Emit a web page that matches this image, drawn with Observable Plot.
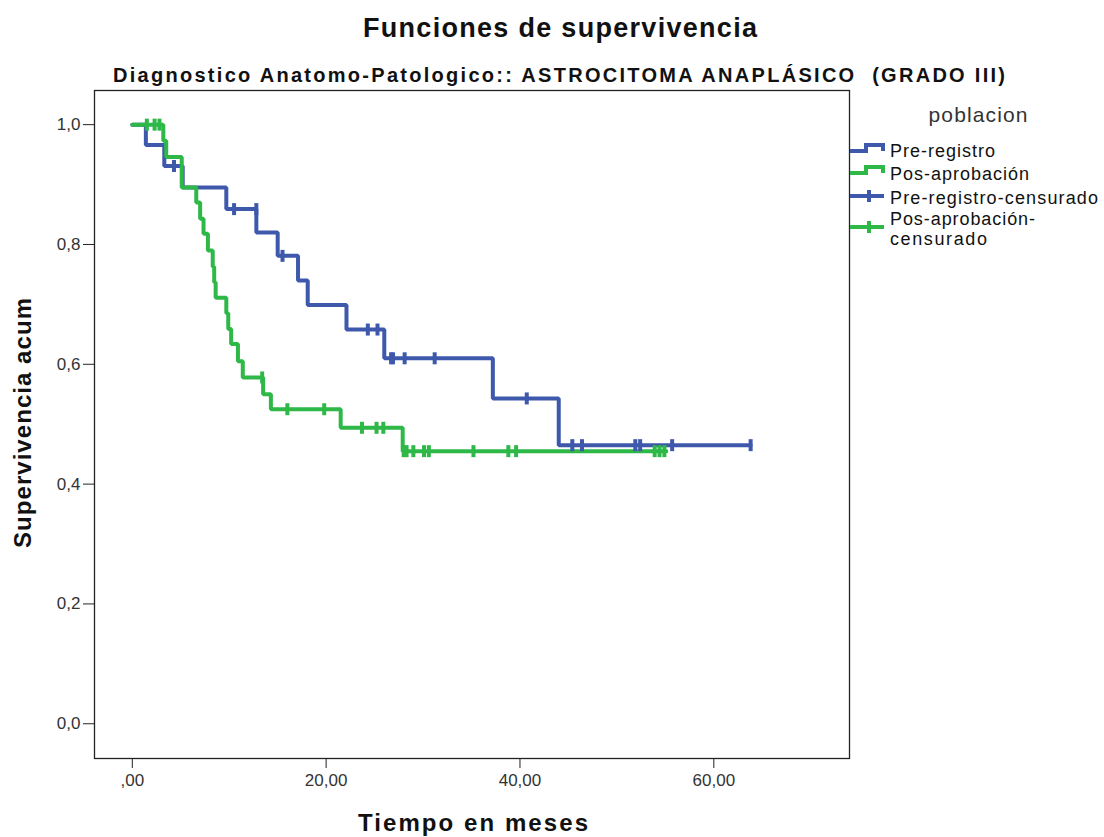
<!DOCTYPE html>
<html><head><meta charset="utf-8">
<script src="https://cdn.jsdelivr.net/npm/d3@7"></script>
<script src="https://cdn.jsdelivr.net/npm/@observablehq/plot@0.6"></script>
<style>
body{margin:0;background:#fff;}
#chart svg{display:block;font-family:"Liberation Sans",Arial,sans-serif;}
</style></head><body><div id="chart"></div>
<script>
// ---- data ----
const groups = ["Pre-registro", "Pos-aprobación"];
const colors = ["#3E58AC", "#2EB848"];

const preTimes = [0, 1.4, 3.3, 5.2, 9.7, 12.8, 15.0, 17.1, 18.1, 22.1, 26.0, 37.2, 44.0, 63.8];
const preSurv  = [1.0, 0.966, 0.931, 0.895, 0.859, 0.820, 0.781, 0.740, 0.699, 0.658, 0.610, 0.543, 0.465, 0.465];
const preCensored = [4.3, 10.5, 12.8, 15.5, 24.3, 25.3, 26.7, 26.9, 28.1, 31.2, 40.7, 45.4, 46.4, 51.9, 52.4, 55.7, 63.8];

const posTimes = [0, 3.2, 3.5, 5.1, 6.6, 7.0, 7.35, 7.8, 8.3, 8.45, 8.6, 9.7, 9.9, 10.2, 10.9, 11.4, 13.5, 14.3, 21.5, 27.9, 55.1];
const posSurv  = [1.0, 0.973, 0.946, 0.895, 0.870, 0.843, 0.818, 0.790, 0.763, 0.737, 0.711, 0.685, 0.659, 0.634, 0.605, 0.578, 0.550, 0.525, 0.494, 0.455, 0.455];
const posCensored = [1.5, 2.3, 2.8, 13.4, 16.0, 19.8, 23.7, 25.2, 25.9, 28.0, 28.3, 29.0, 30.1, 30.6, 35.2, 38.8, 39.6, 53.9, 54.4, 54.9];

const xTicks = [0, 20, 40, 60];
const yTicks = [0, 0.2, 0.4, 0.6, 0.8, 1.0];
const legendLabels = ["Pre-registro", "Pos-aprobación", "Pre-registro-censurado", ["Pos-aprobación-", "censurado"]];

const titleText = "Funciones de supervivencia";
const subtitleText = "Diagnostico Anatomo-Patologico:: ASTROCITOMA ANAPLÁSICO  (GRADO III)";
const xLabel = "Tiempo en meses";
const yLabel = "Supervivencia acum";
const legendTitle = "poblacion";

// ---- build tables ----
function levelAt(times, surv, t) {
  let v = surv[0];
  for (let i = 0; i < times.length; i++) if (times[i] < t) v = surv[i];
  return v;
}
const steps = [
  ...preTimes.map((t, i) => ({time: t, surv: preSurv[i], group: groups[0]})),
  ...posTimes.map((t, i) => ({time: t, surv: posSurv[i], group: groups[1]}))
];
const censors = [
  ...preCensored.map(t => ({time: t, surv: levelAt(preTimes, preSurv, t), group: groups[0]})),
  ...posCensored.map(t => ({time: t, surv: levelAt(posTimes, posSurv, t), group: groups[1]}))
];

const vtick = {draw(ctx, size) { const h = Math.sqrt(size / Math.PI); ctx.moveTo(0, -h); ctx.lineTo(0, h); }};
const fmtX = d => d === 0 ? ",00" : d.toFixed(2).replace(".", ",");
const fmtY = d => d.toFixed(1).replace(".", ",");

const chart = Plot.plot({
  width: 1104, height: 837,
  marginTop: 90, marginRight: 255, marginBottom: 79, marginLeft: 94,
  style: {fontFamily: '"Liberation Sans", Arial, sans-serif', background: "#fff", color: "#222"},
  x: {domain: [-3.9, 74]},
  y: {domain: [-0.058, 1.057]},
  color: {domain: groups, range: colors},
  marks: [
    Plot.axisX(xTicks, {tickSize: 10, tickPadding: 5, tickFormat: fmtX, fontSize: 17, label: null, fill: "#333"}),
    Plot.axisY(yTicks, {tickSize: 11, tickPadding: 3, tickFormat: fmtY, fontSize: 17, label: null, fill: "#333"}),
    Plot.line(steps.filter(d => d.group === groups[0]), {x: "time", y: "surv", stroke: "group", curve: "step-after", strokeWidth: 4, strokeLinejoin: "miter"}),
    Plot.line(steps.filter(d => d.group === groups[1]), {x: "time", y: "surv", stroke: "group", curve: "step-after", strokeWidth: 4, strokeLinejoin: "miter"}),
    Plot.dot(censors.filter(d => d.group === groups[0]), {x: "time", y: "surv", stroke: "group", symbol: vtick, r: 6, strokeWidth: 4, fill: "none"}),
    Plot.dot(censors.filter(d => d.group === groups[1]), {x: "time", y: "surv", stroke: "group", symbol: vtick, r: 6, strokeWidth: 4, fill: "none"}),
    Plot.frame({stroke: "#222", strokeWidth: 1.3})
  ]
});
document.getElementById("chart").appendChild(chart);

// ---- titles, axis labels, legend ----
const svg = d3.select(chart);
function addText(txt, x, y, size, weight, len, opts = {}) {
  const t = svg.append("text").attr("x", x).attr("y", y)
    .attr("font-size", size).attr("font-weight", weight)
    .attr("fill", opts.fill || "#111")
    .attr("text-anchor", opts.anchor || "middle")
    .style("white-space", "pre")
    .text(txt);
  if (len) t.attr("textLength", len).attr("lengthAdjust", "spacing");
  if (opts.rotate) t.attr("transform", `rotate(-90 ${x} ${y})`);
  return t;
}
addText(titleText, 560, 37, 27, "bold", 394);
addText(subtitleText, 559, 82, 20, "bold", 892);
addText(xLabel, 473, 831, 24, "bold", 230);
addText(yLabel, 31, 423, 24, "bold", 250, {rotate: true});
addText(legendTitle, 978, 122, 21, "normal", 99, {fill: "#333"});

const lg = svg.append("g");
const tx = 890;
const items = [
  {label: legendLabels[0], base: 157, color: colors[0], kind: "step", ly: 151},
  {label: legendLabels[1], base: 180, color: colors[1], kind: "step", ly: 173},
  {label: legendLabels[2], base: 204, color: colors[0], kind: "cens", ly: 196},
  {label: legendLabels[3], base: 225, color: colors[1], kind: "cens", ly: 227}
];
const widths = {"Pre-registro": 105, "Pos-aprobación": 139, "Pre-registro-censurado": 208, "Pos-aprobación-": 145, "censurado": 97};
items.forEach(it => {
  if (it.kind === "step") {
    lg.append("path").attr("d", `M850,${it.ly}H866V${it.ly - 6}H883V${it.ly}`)
      .attr("fill", "none").attr("stroke", it.color).attr("stroke-width", 4);
  } else {
    lg.append("path").attr("d", `M850,${it.ly}H884M869,${it.ly - 6}V${it.ly + 6}`)
      .attr("fill", "none").attr("stroke", it.color).attr("stroke-width", 4);
  }
  const lines = Array.isArray(it.label) ? it.label : [it.label];
  lines.forEach((s, k) => {
    addText(s, tx, it.base + k * 20, 18, "normal", widths[s], {anchor: "start"});
  });
});
</script>
</body></html>
